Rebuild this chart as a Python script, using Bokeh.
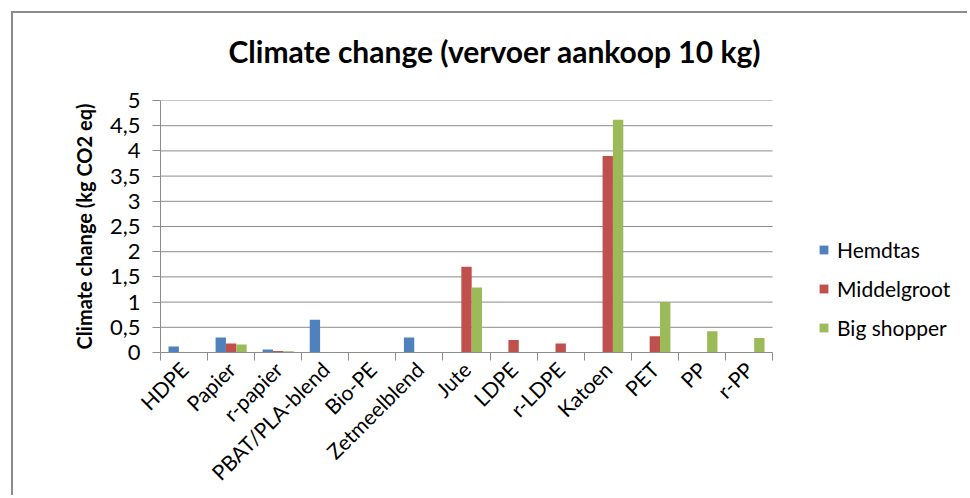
from bokeh.plotting import figure
from bokeh.models import (ColumnDataSource, FixedTicker, Range1d, Legend, LegendItem, Title)
from bokeh.transform import dodge
from bokeh.embed import file_html
from bokeh.resources import INLINE
import math

categories = ["HDPE", "Papier", "r-papier", "PBAT/PLA-blend", "Bio-PE", "Zetmeelblend",
              "Jute", "LDPE", "r-LDPE", "Katoen", "PET", "PP", "r-PP"]
hemdtas = [0.12, 0.30, 0.06, 0.65, 0.0, 0.30, 0.0, 0.0, 0.0, 0.0, 0.0, 0.0, 0.0]
middelgroot = [0.0, 0.18, 0.03, 0.0, 0.0, 0.0, 1.70, 0.25, 0.18, 3.90, 0.32, 0.0, 0.0]
big_shopper = [0.0, 0.16, 0.025, 0.0, 0.0, 0.0, 1.29, 0.0, 0.0, 4.62, 1.0, 0.42, 0.29]
series_names = ["Hemdtas", "Middelgroot", "Big shopper"]
y_ticks = [0, 0.5, 1, 1.5, 2, 2.5, 3, 3.5, 4, 4.5, 5]
title_text = "Climate change (vervoer aankoop 10 kg)"
y_label = "Climate change (kg CO2 eq)"

colors = ["#4F81BD", "#C0504D", "#9BBB59"]
FONT = "Lato"
GRID = "#8c8c8c"

n = len(categories)
idx = list(range(n))
src = ColumnDataSource(dict(x=idx, h=hemdtas, m=middelgroot, b=big_shopper))

# layout (pixels)
W, H = 956, 484
left_b, top_b, bottom_b, right_b = 147, 87, 145, 2
cat_px = 47.08                        # width of one category on screen
frame_w = W - left_b - right_b
x_start = -0.5
x_end = x_start + frame_w / cat_px    # frame extends right to hold the legend

p = figure(width=W, height=H, output_backend="svg", toolbar_location=None,
           x_range=Range1d(x_start, x_end), y_range=Range1d(0, 5),
           min_border_left=left_b, min_border_right=right_b,
           min_border_top=top_b, min_border_bottom=bottom_b)
p.styles = {"margin-left": "13px", "margin-top": "13px",
            "box-shadow": "-2px -2px 0px 0px #8c8c8c"}
p.outline_line_color = None
p.background_fill_color = "white"
p.border_fill_color = "white"

# horizontal gridlines, limited to the category area
p.segment(x0=x_start, x1=n - 0.5, y0=y_ticks, y1=y_ticks, line_color=GRID, line_width=1)

bw = 0.22
r1 = p.vbar(x=dodge("x", -bw, range=p.x_range), top="h", width=bw, source=src,
            fill_color=colors[0], line_color=None)
r2 = p.vbar(x=dodge("x", 0, range=p.x_range), top="m", width=bw, source=src,
            fill_color=colors[1], line_color=None)
r3 = p.vbar(x=dodge("x", bw, range=p.x_range), top="b", width=bw, source=src,
            fill_color=colors[2], line_color=None)

# x axis
p.xaxis.bounds = (x_start, n - 0.5)
p.xaxis.ticker = FixedTicker(ticks=idx, minor_ticks=[i - 0.5 for i in idx] + [n - 0.5])
p.xaxis.major_label_overrides = {i: c for i, c in zip(idx, categories)}
p.xaxis.major_label_orientation = math.pi / 4
p.xaxis.major_tick_line_color = None
p.xaxis.major_tick_out = 8
p.xaxis.minor_tick_line_color = GRID
p.xaxis.minor_tick_out = 8
p.xaxis.minor_tick_in = 0
p.xaxis.axis_line_color = GRID
p.xaxis.major_label_text_font = FONT
p.xaxis.major_label_text_font_size = "21px"
p.xaxis.major_label_text_color = "black"
p.xaxis.major_label_standoff = 5
p.xgrid.grid_line_color = None
p.ygrid.grid_line_color = None

# y axis
p.yaxis.ticker = FixedTicker(ticks=y_ticks)
p.yaxis.major_label_overrides = {t: str(t).replace(".", ",") for t in y_ticks}
p.yaxis.minor_tick_line_color = None
p.yaxis.major_tick_out = 8
p.yaxis.major_tick_in = 0
p.yaxis.major_tick_line_color = GRID
p.yaxis.axis_line_color = GRID
p.yaxis.major_label_text_font = FONT
p.yaxis.major_label_text_font_size = "22px"
p.yaxis.major_label_text_color = "black"
p.yaxis.major_label_standoff = 12
p.yaxis.axis_label = y_label
p.yaxis.axis_label_text_font = FONT
p.yaxis.axis_label_text_font_size = "20px"
p.yaxis.axis_label_text_font_style = "bold"
p.yaxis.axis_label_text_color = "black"
p.yaxis.axis_label_standoff = 11

# title: a blank spacer next to the frame, then the real title above it
p.title.text = ""
p.add_layout(Title(text=" ", text_font_size="10px", standoff=19), "above")
p.add_layout(Title(text=title_text, align="left", offset=68, standoff=0,
                   text_font=FONT, text_font_size="30px", text_font_style="bold",
                   text_color="black"), "above")

legend = Legend(items=[LegendItem(label=series_names[0], renderers=[r1]),
                       LegendItem(label=series_names[1], renderers=[r2]),
                       LegendItem(label=series_names[2], renderers=[r3])],
                location=(658, 12), padding=0, margin=0, border_line_color=None,
                background_fill_alpha=0, glyph_width=11, glyph_height=11,
                label_height=24, spacing=14, label_standoff=8,
                label_text_font=FONT, label_text_font_size="21px", label_text_color="black")
p.add_layout(legend, "center")

open("out.html", "w").write(file_html(p, INLINE))
